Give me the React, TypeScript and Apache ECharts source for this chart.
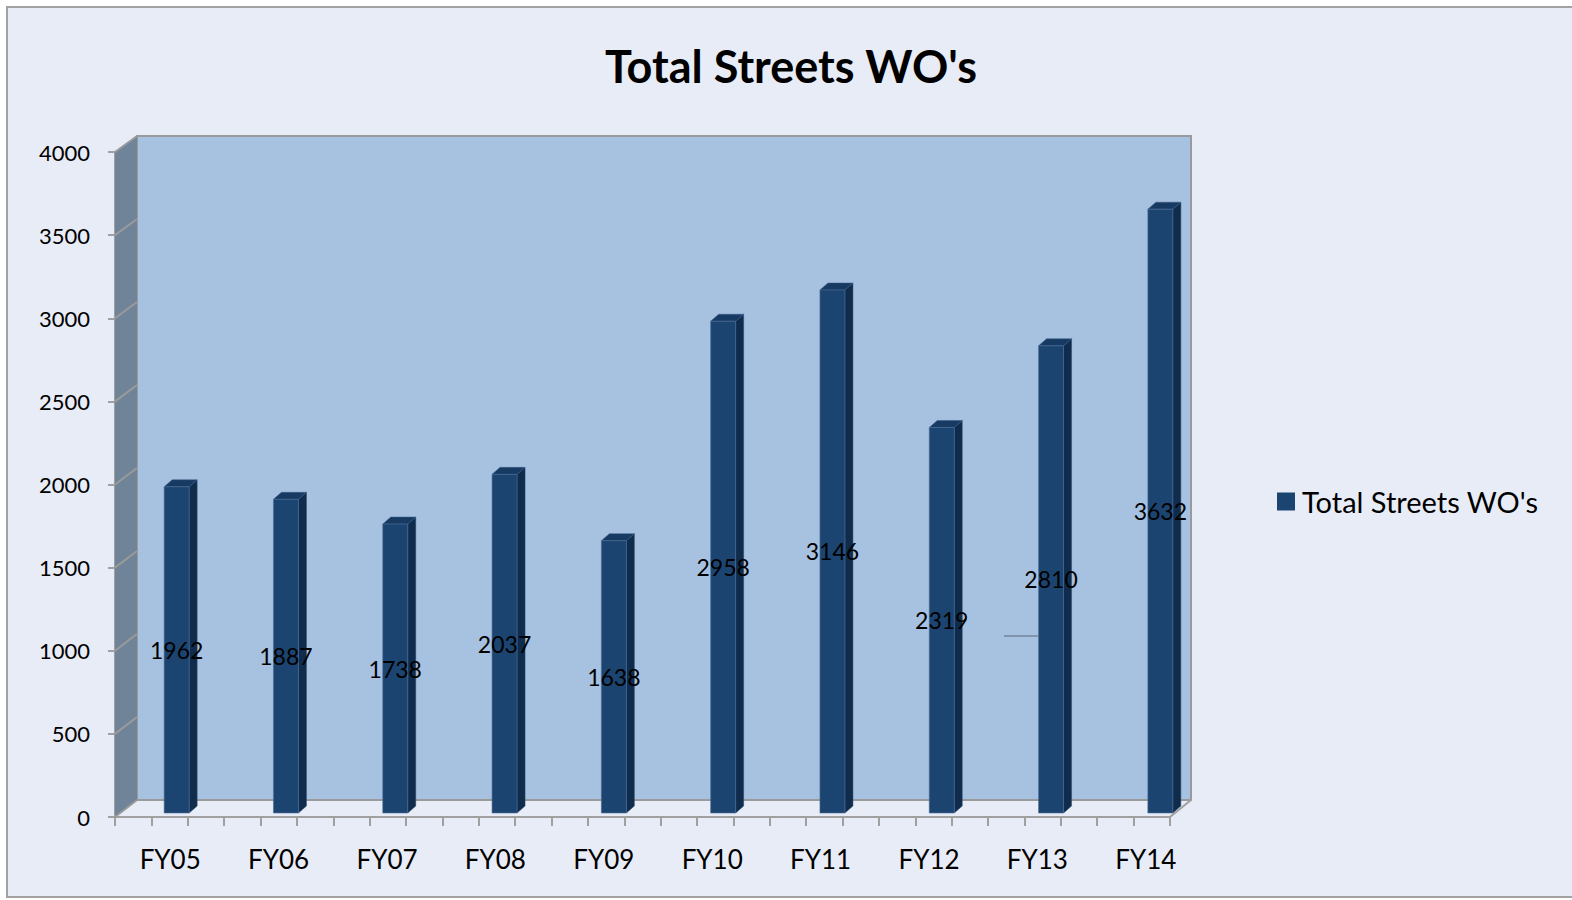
import React, { useEffect, useRef } from "react";
import * as echarts from "echarts";

const categories = ["FY05", "FY06", "FY07", "FY08", "FY09", "FY10", "FY11", "FY12", "FY13", "FY14"];
const values = [1962, 1887, 1738, 2037, 1638, 2958, 3146, 2319, 2810, 3632];
const yTicks = [0, 500, 1000, 1500, 2000, 2500, 3000, 3500, 4000];
const seriesName = "Total Streets WO's";
const titleText = "Total Streets WO's";
const tickSlots = Array.from({ length: 29 }, (_, i) => "t" + i);

const FONT = "Lato, 'Open Sans', sans-serif";

export default function App() {
  const ref = useRef<HTMLDivElement>(null);
  useEffect(() => {
    if (!ref.current) return;
    const chart = echarts.init(ref.current, null, { renderer: "svg", width: 1572, height: 900 });
    const yMax = yTicks[yTicks.length - 1];
    const option: any = {
      animation: false,
      backgroundColor: "#FFFFFF",
      grid: [
        // back wall
        { left: 137, top: 136, width: 1054, height: 664, show: true, backgroundColor: "#A7C1E0", borderColor: "#9A9A9A", borderWidth: 2, z: 1 },
        // front axes
        { left: 115, top: 152, width: 1055, height: 665, show: false },
        // category labels
        { left: 116, top: 152, width: 1084, height: 665, show: false },
        // bars
        { left: 122, top: 148, width: 1093, height: 665, show: false },
      ],
      xAxis: [
        { gridIndex: 0, type: "category", data: categories, show: false },
        {
          gridIndex: 1, type: "category", data: tickSlots, boundaryGap: true,
          axisLine: { show: true, lineStyle: { color: "#A0A0A0", width: 2 } },
          axisTick: { show: true, alignWithLabel: false, inside: false, length: 9, interval: 0, lineStyle: { color: "#A0A0A0", width: 2 } },
          axisLabel: { show: false },
        },
        {
          gridIndex: 2, type: "category", data: categories,
          axisLine: { show: false }, axisTick: { show: false },
          axisLabel: { show: true, interval: 0, margin: 29, fontSize: 26, fontFamily: FONT, color: "#000" },
        },
        { gridIndex: 3, type: "category", data: categories, show: false },
      ],
      yAxis: [
        {
          gridIndex: 0, type: "value", min: 0, max: yMax, interval: 500,
          axisLine: { show: false }, axisTick: { show: false }, axisLabel: { show: false },
          splitLine: { show: true, lineStyle: { color: "#8E8E8E", width: 2 } },
        },
        {
          gridIndex: 1, type: "value", min: 0, max: yMax, interval: 500,
          axisLine: { show: true, lineStyle: { color: "#A0A0A0", width: 2 } },
          axisTick: { show: true, length: 7, lineStyle: { color: "#A0A0A0", width: 2 } },
          axisLabel: { show: true, margin: 25, fontSize: 22, fontFamily: FONT, color: "#000", formatter: (v: number) => String(v) },
          splitLine: { show: false },
        },
        { gridIndex: 2, type: "value", min: 0, max: yMax, show: false, splitLine: { show: false } },
        { gridIndex: 3, type: "value", min: 0, max: yMax, show: false, splitLine: { show: false } },
      ],
      legend: {
        data: [{ name: seriesName, icon: "rect" }],
        left: 1272, top: 482,
        itemWidth: 18, itemHeight: 18,
        textStyle: { fontSize: 29, fontFamily: FONT, color: "#000", padding: [0, 0, 0, 2] },
      },
      series: [
        {
          name: seriesName,
          type: "custom",
          xAxisIndex: 3, yAxisIndex: 3,
          z: 10,
          itemStyle: { color: "#1C4470" },
          data: values.map((v, i) => [i, v]),
          renderItem: (params: any, api: any) => {
            const idx = api.value(0);
            const v = api.value(1);
            const top = api.coord([idx, v]);
            const base = api.coord([idx, 0]);
            const w = 25, dx = 8, dy = 7;
            const x0 = top[0] - w / 2, x1 = top[0] + w / 2;
            const yT = top[1], yB = base[1];
            return {
              type: "group",
              children: [
                { type: "polygon", shape: { points: [[x1, yT], [x1 + dx, yT - dy], [x1 + dx, yB - dy], [x1, yB]] }, style: { fill: "#102C4C", stroke: "#2A4A70", lineWidth: 0.5 } },
                { type: "polygon", shape: { points: [[x0, yT], [x0 + dx, yT - dy], [x1 + dx, yT - dy], [x1, yT]] }, style: { fill: "#173A62", stroke: "#3A5C85", lineWidth: 0.5 } },
                { type: "rect", shape: { x: x0, y: yT, width: w, height: yB - yT }, style: { fill: "#1C4470", stroke: "#4F6F97", lineWidth: 0.6 } },
                { type: "text", x: top[0], y: (yT + yB) / 2, z2: 20, style: { text: String(v), fill: "#000", font: "23px " + FONT, align: "center", verticalAlign: "middle" } },
              ],
            };
          },
        },
      ],
    };
    chart.setOption(option);

    // decorations: frame, side wall, diagonals, floor edge
    const frontLeft = 115, frontRight = 1170, backLeft = 137, backRight = 1191;
    const yF = (v: number) => chart.convertToPixel({ yAxisIndex: 1 } as any, v) as number;
    const yB = (v: number) => chart.convertToPixel({ yAxisIndex: 0 } as any, v) as number;
    const graphics: any[] = [
      { type: "rect", z: -10, shape: { x: 7, y: 7, width: 1600, height: 890 }, style: { fill: "#E8ECF6", stroke: "#A2A2A2", lineWidth: 2 } },
      {
        type: "polygon", z: 5,
        shape: { points: [[frontLeft, yF(yMax)], [backLeft, yB(yMax)], [backLeft, yB(0)], [frontLeft, yF(0)]] },
        style: { fill: "#6F8399" },
      },
      ...yTicks.map((v) => ({
        type: "line", z: 6,
        shape: { x1: frontLeft, y1: yF(v), x2: backLeft, y2: yB(v) },
        style: { stroke: "#9A9A9A", lineWidth: 2 },
      })),
      {
        type: "line", z: 6,
        shape: { x1: frontRight, y1: yF(0), x2: backRight, y2: yB(0) },
        style: { stroke: "#A0A0A0", lineWidth: 2 },
      },
      {
        type: "line", z: 6,
        shape: { x1: 1004, y1: yB(1000) + 2, x2: 1038, y2: yB(1000) + 2 },
        style: { stroke: "#7F94AF", lineWidth: 2 },
      },
      {
        type: "text", z: 6, x: 791, y: 66,
        style: { text: titleText, font: "bold 45px " + FONT, fill: "#000", align: "center", verticalAlign: "middle" },
      },
    ];
    chart.setOption({ graphic: graphics });
    return () => chart.dispose();
  }, []);
  return <div ref={ref} style={{ position: "absolute", left: 0, top: 0, width: 1572, height: 900 }} />;
}
